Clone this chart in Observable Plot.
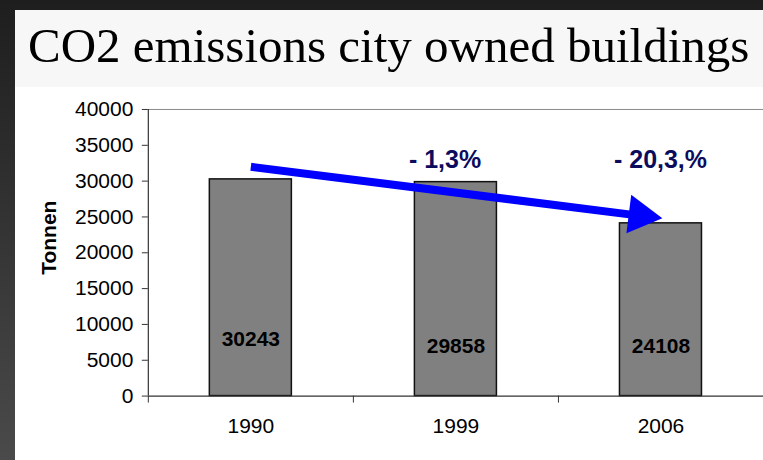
<!DOCTYPE html>
<html>
<head>
<meta charset="utf-8">
<script src="https://cdn.jsdelivr.net/npm/d3@7"></script>
<script src="https://cdn.jsdelivr.net/npm/@observablehq/plot@0.6"></script>
<style>
html, body { margin: 0; padding: 0; width: 763px; height: 460px; overflow: hidden; }
body { background: linear-gradient(#1e1e1e, #4a4a4a); position: relative; }
#panel { position: absolute; left: 15px; top: 10px; width: 748px; height: 450px; background: #ffffff; overflow: hidden; }
#title { height: 77px; background: #f7f7f7; font-family: "Liberation Serif", "Times New Roman", serif; font-size: 49px; line-height: 49px; padding-left: 13px; padding-top: 11px; box-sizing: border-box; color: #000; white-space: nowrap; }
#chart { position: absolute; left: 0; top: 78px; }
</style>
</head>
<body>
<div id="panel">
  <div id="title">CO2 emissions city owned buildings</div>
  <div id="chart"></div>
</div>
<script>
// ---- data ----
const years = ["1990", "1999", "2006"];
const values = [30243, 29858, 24108];
const yTicks = [0, 5000, 10000, 15000, 20000, 25000, 30000, 35000, 40000];
const yLabel = "Tonnen";
const changeYears = ["1999", "2006"];
const changeLabels = ["- 1,3%", "- 20,3,%"];
const arrowFromYear = "1990";
const arrowFromValue = 32000;
const arrowToYear = "2006";
const arrowToValue = 24800;

// ---- derived tables ----
const idx = (y) => years.indexOf(y);
const bars = years.map((year, i) => ({ year, i, value: values[i] }));
const changes = changeYears.map((y, k) => ({ i: idx(y), label: changeLabels[k] }));
const arrow = [{ x1: idx(arrowFromYear), y1: arrowFromValue, x2: idx(arrowToYear), y2: arrowToValue }];
const boundaries = d3.range(-0.5, years.length, 1);

const yTop = yTicks[yTicks.length - 1];
const navy = "#0c0c5e";
const blue = "#0000ff";

const chart = Plot.plot({
  width: 749,
  height: 372,
  marginLeft: 133,
  marginRight: 0,
  marginTop: 21,
  marginBottom: 64,
  style: { fontFamily: "'Liberation Sans', Arial, sans-serif", background: "transparent", color: "#000", overflow: "visible" },
  x: { domain: [-0.5, years.length - 0.5] },
  y: { domain: [0, yTop] },
  marks: [
    Plot.ruleY([yTop], { stroke: "#8a8a8a", strokeWidth: 1 }),
    Plot.rect(bars, { x1: (d) => d.i - 0.2, x2: (d) => d.i + 0.2, y1: 0, y2: "value", fill: "#808080", stroke: "#111", strokeWidth: 1.5 }),
    Plot.axisY({ ticks: yTicks, tickSize: 6, tickPadding: 9, tickFormat: (d) => String(d), fontSize: 21, label: null, stroke: "#333" }),
    Plot.axisX({ ticks: boundaries, tickSize: 7, tickFormat: () => "", label: null, stroke: "#333" }),
    Plot.axisX({ ticks: years.map((y, i) => i), tickSize: 0, tickPadding: 22, tickFormat: (i) => years[i], fontSize: 21, label: null }),
    Plot.ruleY([0], { stroke: "#333", strokeWidth: 1.2 }),
    Plot.ruleX([-0.5], { y1: 0, y2: yTop, stroke: "#333", strokeWidth: 1.2 }),
    Plot.text([yLabel], { text: (d) => d, frameAnchor: "left", rotate: -90, dy: 22, dx: -99, fontWeight: "bold", fontSize: 21 }),
    Plot.text(bars, { filter: (d) => d.i === 0, x: "i", y: 7900, text: (d) => String(d.value), fontWeight: "bold", fontSize: 21 }),
    Plot.text(bars, { filter: (d) => d.i !== 0, x: "i", y: 7000, text: (d) => String(d.value), fontWeight: "bold", fontSize: 21 }),
    Plot.text(changes, { x: "i", y: 33000, text: "label", textAnchor: "start", dx: -47, fill: navy, fontWeight: "bold", fontSize: 25 }),
    Plot.arrow(arrow, { x1: "x1", y1: "y1", x2: "x2", y2: "y2", stroke: blue, strokeWidth: 8, headLength: 0, insetEnd: 26, strokeLinecap: "butt" }),
    Plot.dot(arrow, { x: "x2", y: "y2", symbol: "triangle", r: 14.5, rotate: 97, dx: -21, dy: -3, fill: blue, stroke: "none" })
  ]
});
document.getElementById("chart").appendChild(chart);
</script>
</body>
</html>
